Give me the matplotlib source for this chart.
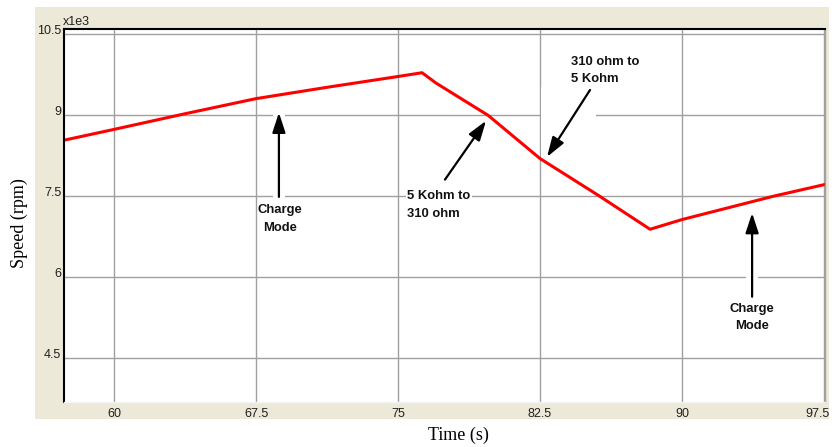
import matplotlib
matplotlib.use("Agg")
import matplotlib.pyplot as plt
from matplotlib.patches import Rectangle
from matplotlib.transforms import ScaledTranslation

# speed trace (time in s, speed in 1e3 rpm)
time_s = [57.36, 60.0, 63.75, 67.5, 71.25, 75.0, 76.27, 77.0,
          79.76, 82.5, 85.57, 88.31, 90.0, 94.8, 97.55]
speed_krpm = [8.54, 8.74, 9.03, 9.31, 9.52, 9.72, 9.79, 9.60,
              9.00, 8.20, 7.52, 6.89, 7.07, 7.50, 7.72]

x_ticks = [60, 67.5, 75, 82.5, 90, 97.5]
x_tick_labels = ["60", "67.5", "75", "82.5", "90", "97.5"]
y_ticks = [4.5, 6, 7.5, 9, 10.5]
y_tick_labels = ["4.5", "6", "7.5", "9", "10.5"]

# annotations: text, text position, alignment, arrow tail, arrow head
notes = [
    ("Charge\nMode", (68.77, 7.08), "center", (68.71, 7.49), (68.71, 9.05)),
    ("5 Kohm to\n310 ohm", (75.48, 7.34), "left", (77.48, 7.81), (79.65, 8.90)),
    ("310 ohm to\n5 Kohm", (84.14, 9.83), "left", (85.14, 9.47), (82.87, 8.23)),
    ("Charge\nMode", (93.70, 5.25), "center", (93.70, 5.64), (93.70, 7.19)),
]

fig = plt.figure(figsize=(8.32, 4.47), dpi=100)
fig.patch.set_facecolor("white")

# grey panel behind the plot
W, H = 832, 447
fig.patches.append(Rectangle((35 / W, 1 - 419 / H), 794 / W, 412 / H,
                             transform=fig.transFigure, facecolor="#ECE9D8",
                             edgecolor="none", zorder=0))

ax = fig.add_axes([64 / W, 1 - 402 / H, 761 / W, 373 / H])
ax.set_facecolor("white")
ax.set_zorder(1)

ax.plot(time_s, speed_krpm, color="#FF0000", lw=2.2, zorder=2, solid_joinstyle="round")

ax.set_xlim(57.36, 97.55)
ax.set_ylim(3.69, 10.60)
ax.set_xticks(x_ticks)
ax.set_xticklabels(x_tick_labels)
ax.set_yticks(y_ticks)
ax.set_yticklabels(y_tick_labels)
ax.set_axisbelow(True)
ax.grid(True, color="#A0A0A0", lw=1.0)
ax.tick_params(length=0, labelsize=9, labelcolor="#202020", pad=2)
ax.tick_params(axis="x", pad=4)
for lab in ax.get_xticklabels() + ax.get_yticklabels():
    lab.set_fontfamily("Liberation Sans")
off = ScaledTranslation(0, 3.6 / 72, fig.dpi_scale_trans)
for lab in ax.get_yticklabels():
    lab.set_transform(lab.get_transform() + off)
# last x label sits at the figure edge; nudge it in so it stays whole
last = ax.get_xticklabels()[-1]
last.set_transform(last.get_transform() + ScaledTranslation(-5 / 72, 0, fig.dpi_scale_trans))

ax.spines["left"].set_color("black")
ax.spines["left"].set_linewidth(1.5)
ax.spines["top"].set_color("black")
ax.spines["top"].set_linewidth(1.5)
ax.spines["right"].set_color("#A0A0A0")
ax.spines["right"].set_linewidth(1.0)
ax.spines["bottom"].set_color("#F4F4F4")
ax.spines["bottom"].set_linewidth(1.0)

ax.text(0.0, 1.0, "x1e3", transform=ax.transAxes + ScaledTranslation(-1 / 72, 1 / 72, fig.dpi_scale_trans),
        ha="left", va="bottom", fontsize=9, color="#202020", family="Liberation Sans")

for txt, pos, ha, tail, head in notes:
    # white box under each arrow, as in the original drawing tool
    x0, x1 = min(tail[0], head[0]) - 0.3, max(tail[0], head[0]) + 0.3
    y0, y1 = min(tail[1], head[1]) - 0.05, max(tail[1], head[1]) + 0.05
    ax.add_patch(Rectangle((x0, y0), x1 - x0, y1 - y0, facecolor="white",
                           edgecolor="none", zorder=1))
    ax.annotate("", xy=head, xytext=tail, zorder=3,
                arrowprops=dict(arrowstyle="-|>,head_length=1.0,head_width=0.33",
                                mutation_scale=12, color="black", lw=1.6,
                                shrinkA=0, shrinkB=0))
    box = dict(facecolor="white", edgecolor="none", pad=1.0) if ha == "left" else None
    ax.text(pos[0], pos[1], txt, ha=ha, va="center", multialignment=ha,
            fontsize=9.4, fontweight="bold", family="Liberation Sans",
            color="#111111", linespacing=1.6, zorder=3, bbox=box)

fig.text(19 / W, 1 - 223 / H, "Speed (rpm)", rotation=90, ha="center", va="center",
         fontsize=13, family="Liberation Serif")
fig.text(458 / W, 1 - 435 / H, "Time (s)", ha="center", va="center",
         fontsize=13, family="Liberation Serif")

fig.savefig("out.png", dpi=100)
